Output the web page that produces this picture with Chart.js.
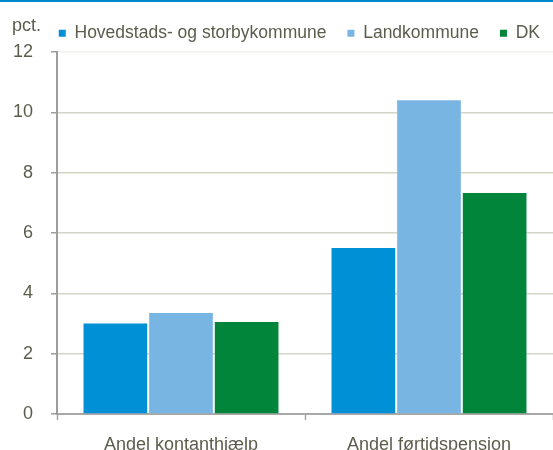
<!DOCTYPE html>
<html>
<head>
<meta charset="utf-8">
<script src="https://cdn.jsdelivr.net/npm/chart.js@4/dist/chart.umd.min.js"></script>
<style>
  html, body { margin: 0; padding: 0; background: #fff; }
  #wrap { position: relative; width: 553px; height: 450px; overflow: hidden; }
  #topline { position: absolute; left: 0; top: 0; width: 553px; height: 2px; background: #0088cc; }
</style>
</head>
<body>
<div id="wrap">
  <canvas id="chart" width="553" height="450"></canvas>
  <div id="topline"></div>
</div>
<script>
const categories = ['Andel kontanthjælp', 'Andel førtidspension'];
const seriesNames = ['Hovedstads- og storbykommune', 'Landkommune', 'DK'];
const hovedstadValues = [3.0, 5.5];
const landValues = [3.35, 10.4];
const dkValues = [3.05, 7.33];
const seriesColors = ['#0090d5', '#78b5e3', '#00853b'];
const yMax = 12;
const yStep = 2;
const unitLabel = 'pct.';

const textColor = '#5c5c4c';
const fontFamily = "'Liberation Sans', Arial, sans-serif";

const unitPlugin = {
  id: 'unitLabel',
  afterLayout(chart) {
    // nudge the legend row a little to the right, like the original
    if (chart.legend) {
      chart.legend.left += 5;
      chart.legend.right += 5;
    }
  },
  afterDraw(chart) {
    const ctx = chart.ctx;
    ctx.save();
    ctx.font = '18px ' + fontFamily;
    ctx.fillStyle = textColor;
    ctx.textBaseline = 'alphabetic';
    ctx.textAlign = 'left';
    ctx.fillText(unitLabel, 12, 31);
    ctx.restore();
  }
};

const ctx = document.getElementById('chart').getContext('2d');
new Chart(ctx, {
  type: 'bar',
  data: {
    labels: categories,
    datasets: [
      { label: seriesNames[0], data: hovedstadValues, backgroundColor: seriesColors[0] },
      { label: seriesNames[1], data: landValues, backgroundColor: seriesColors[1] },
      { label: seriesNames[2], data: dkValues, backgroundColor: seriesColors[2] }
    ]
  },
  options: {
    responsive: false,
    animation: false,
    devicePixelRatio: 1,
    categoryPercentage: 0.794,
    barPercentage: 0.97,
    layout: { padding: { top: 3.5, left: 0, right: -3, bottom: 0 } },
    plugins: {
      tooltip: { enabled: false },
      legend: {
        position: 'top',
        align: 'end',
        labels: {
          boxWidth: 7,
          boxHeight: 7,
          padding: 21,
          color: textColor,
          font: { size: 17.5, family: fontFamily }
        }
      }
    },
    scales: {
      x: {
        afterFit(scale) { scale.height = 36; },
        grid: {
          offset: true,
          drawOnChartArea: false,
          drawTicks: true,
          tickLength: 6,
          tickColor: '#a6a6a6',
          tickWidth: 1.5
        },
        border: { color: '#a8a8a8', width: 2 },
        ticks: {
          color: textColor,
          padding: 14,
          font: { size: 18, family: fontFamily }
        }
      },
      y: {
        min: 0,
        max: yMax,
        afterFit(scale) { scale.width = 57; },
        grid: {
          color: (c) => (c.tick && c.tick.value === yMax ? '#f1f1ee' : '#d3d5c8'),
          lineWidth: 1.5,
          tickLength: 6,
          tickColor: '#9c9c9c',
          tickWidth: 1.5
        },
        border: { color: '#9c9c9c', width: 2 },
        ticks: {
          stepSize: yStep,
          color: textColor,
          padding: 18,
          font: { size: 18, family: fontFamily }
        }
      }
    }
  },
  plugins: [unitPlugin]
});
</script>
</body>
</html>
